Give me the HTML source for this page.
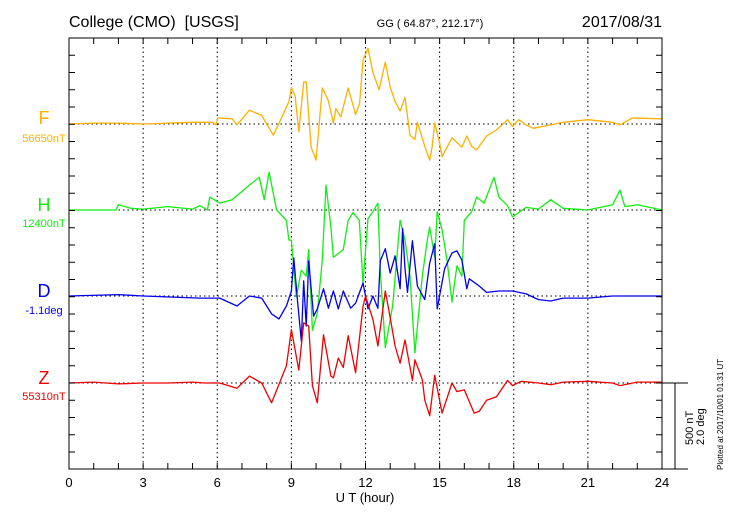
<!DOCTYPE html>
<html><head><meta charset="utf-8"><style>
body{margin:0;background:#fff;}
svg{display:block;font-family:"Liberation Sans",sans-serif;}
</style></head><body>
<svg id="chart" width="730" height="520" viewBox="0 0 730 520" xmlns="http://www.w3.org/2000/svg">
<text x="69" y="27" font-size="16">College (CMO)&#160;&#160;[USGS]</text>
<text x="430" y="27" font-size="11" text-anchor="middle">GG ( 64.87°, 212.17°)</text>
<text x="662" y="27" font-size="16" text-anchor="end">2017/08/31</text>
<g id="grid"></g>
<g id="series"></g>
<rect x="69" y="38" width="593" height="431" fill="none" stroke="#000" stroke-width="1"/>
<g id="axes"></g>
<text x="365" y="502" font-size="13" text-anchor="middle">U T (hour)</text>
<g>
<line x1="662" y1="383" x2="688" y2="383" stroke="#000"/>
<line x1="662" y1="469" x2="688" y2="469" stroke="#000"/>
<line x1="675" y1="383" x2="675" y2="469" stroke="#000"/>
<text transform="translate(693,445) rotate(-90)" font-size="11">500 nT</text>
<text transform="translate(704,445) rotate(-90)" font-size="11">2.0 deg</text>
</g>
<text transform="translate(723,470) rotate(-90)" font-size="8">Plotted at 2017/10/01 01:31  UT</text>
<g><text x="44" y="124" font-size="18" fill="#ffb000" text-anchor="middle">F</text><text x="44" y="142" font-size="11" fill="#ffb000" text-anchor="middle">56650nT</text></g>
<g><text x="44" y="211" font-size="18" fill="#11ee11" text-anchor="middle">H</text><text x="44" y="227" font-size="11" fill="#11ee11" text-anchor="middle">12400nT</text></g>
<g><text x="44" y="297" font-size="18" fill="#0000ee" text-anchor="middle">D</text><text x="44" y="314" font-size="11" fill="#0000ee" text-anchor="middle">-1.1deg</text></g>
<g><text x="44" y="384" font-size="18" fill="#ee0000" text-anchor="middle">Z</text><text x="44" y="400" font-size="11" fill="#ee0000" text-anchor="middle">55310nT</text></g>
</svg>
<script>
const xTicks=[0,3,6,9,12,15,18,21,24];
const fHours=[0,1,2,3,4,5,5.8,5.95,6.03,6.6,6.8,7.3,7.8,8.27,8.6,8.9,9.0,9.15,9.3,9.5,9.6,9.8,10.0,10.25,10.5,10.7,10.8,11.0,11.3,11.6,11.76,11.9,12.1,12.3,12.55,12.8,13.0,13.2,13.4,13.6,13.8,14.0,14.1,14.4,14.6,14.7,14.8,15.0,15.1,15.5,15.9,16.1,16.3,16.5,16.9,17.3,17.75,17.95,18.2,18.5,18.8,19.5,20,21,22,22.3,22.8,24];
const fValues=[0,5,5,0,5,10,10,-5,35,30,-5,80,50,-65,35,130,210,165,-45,245,245,-135,-210,210,135,5,90,40,210,55,120,370,440,300,200,360,215,130,75,155,-65,-90,10,-130,-210,-130,5,-110,-190,-80,-135,-70,-130,-150,-70,-35,25,-15,25,-5,-25,-5,10,25,10,-5,35,30];
const hHours=[0,1,1.9,2.0,2.5,3,4,5,5.3,5.6,5.7,6.1,6.6,7.3,7.7,7.9,8.1,8.4,8.8,8.9,9.0,9.2,9.4,9.6,9.7,9.85,10.05,10.25,10.4,10.6,10.7,11.1,11.3,11.5,11.75,11.9,12.1,12.3,12.5,12.6,12.8,13.1,13.4,13.6,13.8,14.0,14.3,14.5,14.6,14.8,14.9,15.1,15.3,15.5,15.7,15.9,16.0,16.3,16.5,16.8,17.2,17.4,17.75,17.95,18.5,19,19.5,20,21,22,22.3,22.5,23,24];
const hValues=[0,0,0,30,10,5,20,5,25,0,75,40,60,145,190,60,220,0,-60,-175,-175,-505,-350,-385,-230,-700,-600,-290,145,-100,-275,-230,-60,-15,-60,-425,-50,-10,40,-350,-800,-555,-60,-175,-385,-830,-385,-175,-100,-275,-10,-115,-290,-535,-325,-385,-60,-10,75,40,190,75,25,-40,15,5,60,10,0,30,115,20,30,0];
const dHours=[0,2,3,5.3,6.1,6.8,7.3,7.8,8.2,8.5,8.8,9.0,9.1,9.25,9.4,9.5,9.6,9.7,9.9,10.05,10.3,10.5,10.7,10.9,11.1,11.4,11.6,11.9,12.1,12.3,12.5,12.6,12.8,13.0,13.2,13.4,13.5,13.6,13.7,13.9,14.1,14.4,14.6,14.8,14.9,15.2,15.5,15.7,15.9,16.1,16.2,16.6,16.9,17.4,17.95,18.5,19,19.5,20,21,22,23,24];
const dValues=[0,2,0,-3,-3,-14,0,-3,-25,-32,-14,7,53,-8,-63,21,-42,49,-28,-18,10,-17,7,-18,7,-17,-10,18,-18,0,-17,49,66,32,56,10,94,38,5,77,14,-5,46,73,-18,38,60,63,50,10,24,14,5,7,7,3,-5,-7,-3,-3,0,0,0];
const zHours=[0,1,2,3,4,5,5.5,6.1,6.8,7.3,7.8,8.2,8.8,9.0,9.3,9.5,9.7,9.85,10.05,10.3,10.6,10.7,10.9,11.1,11.3,11.6,11.9,12.0,12.3,12.5,12.8,13.0,13.2,13.4,13.6,13.9,14.0,14.3,14.4,14.6,14.8,15.1,15.5,15.7,16.0,16.4,16.6,16.9,17.3,17.75,17.95,18.3,19,19.5,20,21,22,22.3,23,24];
const zValues=[0,5,-5,0,0,5,0,0,-30,40,0,-115,100,310,75,350,330,-15,-115,280,40,30,145,90,275,60,445,505,370,215,535,380,215,115,250,15,135,20,-100,-190,45,-175,0,-50,-40,-175,-165,-100,-80,15,-15,10,0,-10,5,10,0,-15,5,5];

const X0=69,X1=662,Y0=38,Y1=469;
const NS="http://www.w3.org/2000/svg";
function xs(h){return X0+(h/24)*(X1-X0);}
const pxPerNT=86/500, pxPerArcmin=86/120;
function mk(tag,attrs,parent){const e=document.createElementNS(NS,tag);for(const k in attrs)e.setAttribute(k,attrs[k]);parent.appendChild(e);return e;}
const grid=document.getElementById('grid'),axes=document.getElementById('axes'),ser=document.getElementById('series');
const baselines=[124,210,296,383];
xTicks.forEach(t=>{
  if(t>0&&t<24){const l=mk('line',{x1:xs(t),x2:xs(t),y1:Y0,y2:Y1,stroke:'#000','stroke-dasharray':'1.5,3'},grid);
  
  }
  const tx=mk('text',{x:xs(t),y:487,'font-size':13,'text-anchor':'middle'},axes);tx.textContent=t;
  
  
});
baselines.forEach(b=>{const l=mk('line',{x1:X0,x2:X1,y1:b,y2:b,stroke:'#000','stroke-dasharray':'1.5,3'},grid);
  
  });
for(let h=1;h<24;h++){
  mk('line',{x1:xs(h),x2:xs(h),y1:Y1,y2:Y1-6,stroke:'#000'},axes);
  mk('line',{x1:xs(h),x2:xs(h),y1:Y0,y2:Y0+6,stroke:'#000'},axes);
}
for(let y=Y0+17.25;y<Y1-1;y+=17.25){
  mk('line',{x1:X0,x2:X0+6,y1:y,y2:y,stroke:'#000'},axes);
  mk('line',{x1:X1,x2:X1-6,y1:y,y2:y,stroke:'#000'},axes);
}
function draw(hours,vals,base,scale,color,name){
  let d='';
  for(let i=0;i<hours.length;i++){d+=(i?'L':'M')+xs(hours[i]).toFixed(1)+','+(base-vals[i]*scale).toFixed(1);}
  const p=mk('path',{d:d,fill:'none',stroke:color,'stroke-width':1.3,'stroke-linejoin':'round'},ser);
  
  
}
draw(fHours,fValues,124,pxPerNT,'#ffb000','series-f');
draw(hHours,hValues,210,pxPerNT,'#11ee11','series-h');
draw(dHours,dValues,296,pxPerArcmin,'#0000ee','series-d');
draw(zHours,zValues,383,pxPerNT,'#ee0000','series-z');
</script>
</body></html>
